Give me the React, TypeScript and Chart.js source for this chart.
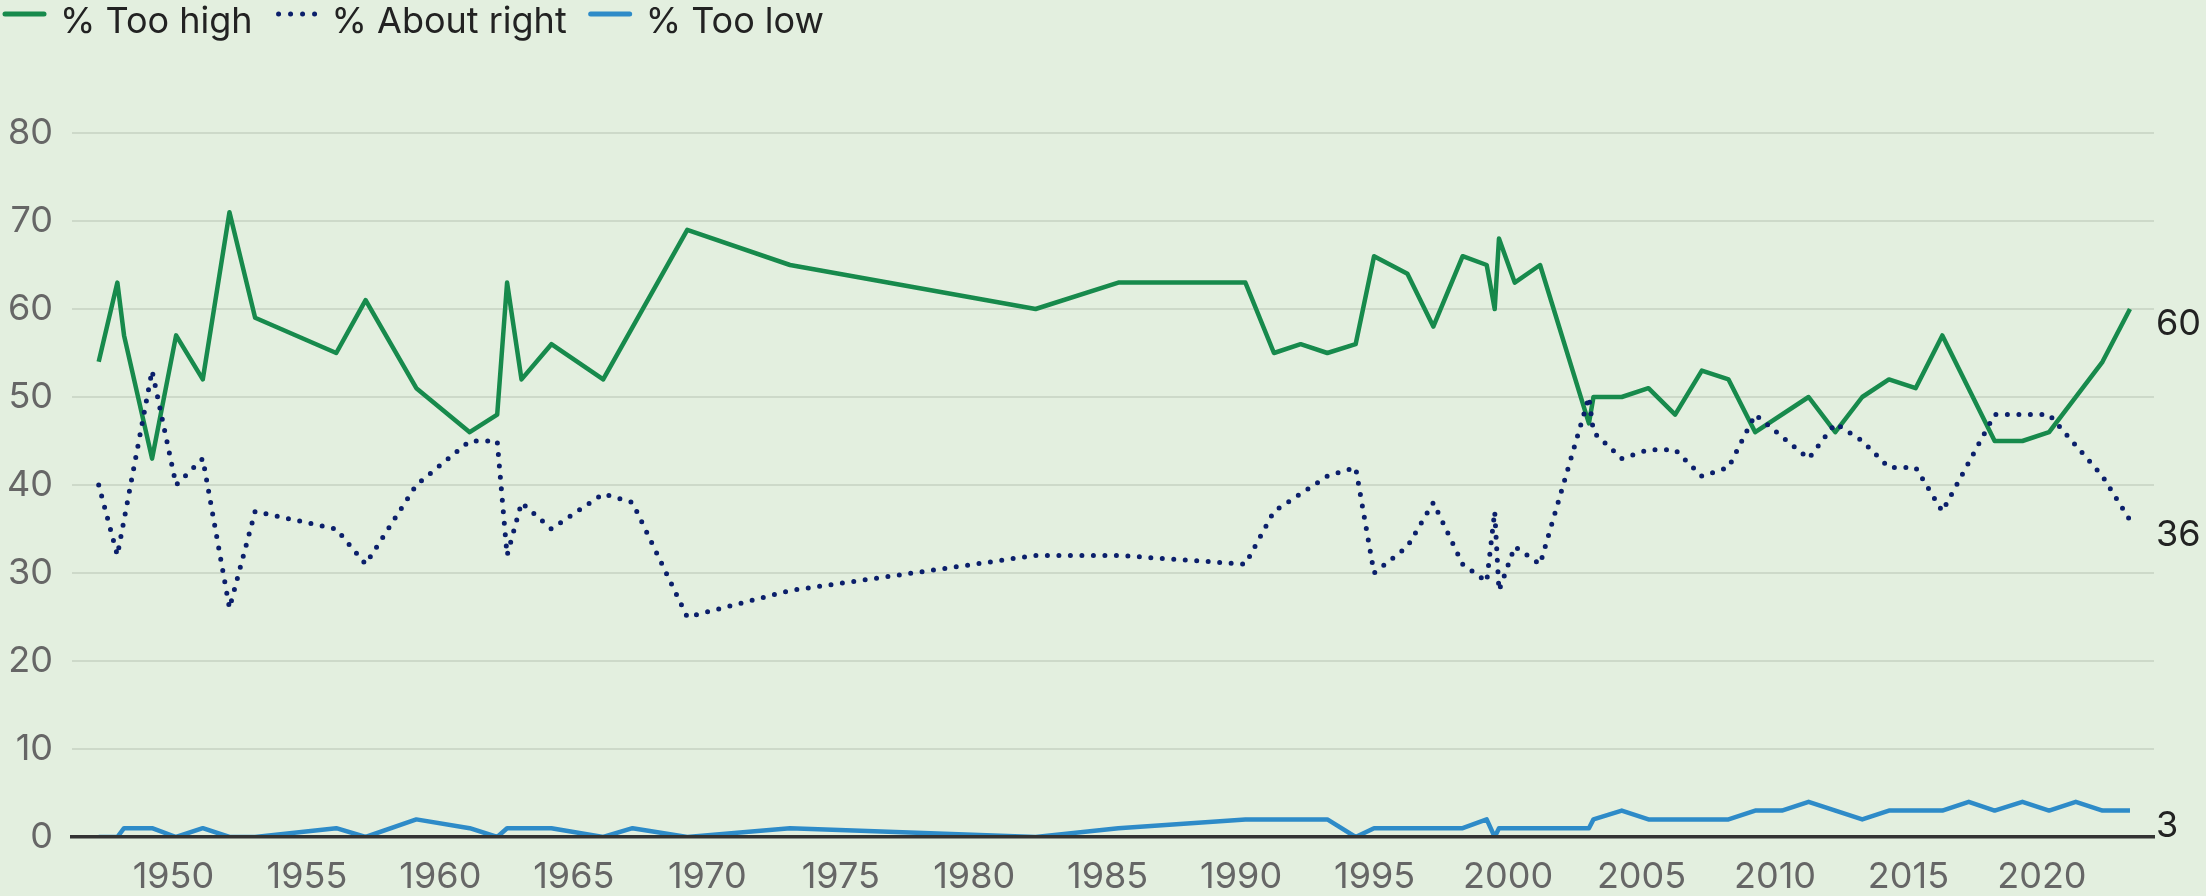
import React, { useEffect, useRef } from "react";
import { Chart, registerables } from "chart.js";

Chart.register(...registerables);

// Survey dates (decimal years)
const years = [
  1947.2, 1947.9, 1948.15, 1949.2, 1950.1, 1951.1, 1952.1, 1953.06, 1956.1, 1957.2,
  1959.1, 1961.1, 1962.13, 1962.5, 1963.04, 1964.16, 1966.1, 1967.2, 1969.25, 1973.1,
  1982.3, 1985.4, 1990.16, 1991.23, 1992.23, 1993.23, 1994.29, 1994.98, 1996.23, 1997.2,
  1998.3, 1999.2, 1999.5, 1999.66, 2000.25, 2001.2, 2003.03, 2003.2, 2004.26, 2005.26,
  2006.26, 2007.26, 2008.26, 2009.26, 2010.26, 2011.26, 2012.26, 2013.27, 2014.27, 2015.27,
  2016.27, 2017.26, 2018.23, 2019.27, 2020.27, 2021.27, 2022.27, 2023.3,
];

const tooHigh = [
  54, 63, 57, 43, 57, 52, 71, 59, 55, 61,
  51, 46, 48, 63, 52, 56, 52, null, 69, 65,
  60, 63, 63, 55, 56, 55, 56, 66, 64, 58,
  66, 65, 60, 68, 63, 65, 47, 50, 50, 51,
  48, 53, 52, 46, null, 50, 46, 50, 52, 51,
  57, null, 45, 45, 46, null, 54, 60,
];

const aboutRight = [
  40, 32, null, 53, 40, 43, 26, 37, 35, 31,
  40, 45, 45, 32, 38, 35, 39, 38, 25, 28,
  32, 32, 31, 37, 39, 41, 42, 30, 33, 38,
  31, 29, 37, 28, 33, 31, 50, 46, 43, 44,
  44, 41, 42, 48, null, 43, 47, 45, 42, 42,
  37, null, 48, 48, 48, null, 41, 36,
];

const tooLow = [
  0, 0, 1, 1, 0, 1, 0, 0, 1, 0,
  2, 1, 0, 1, 1, 1, 0, 1, 0, 1,
  0, 1, 2, 2, 2, 2, 0, 1, 1, 1,
  1, 2, 0, 1, 1, 1, 1, 2, 3, 2,
  2, 2, 2, 3, 3, 4, null, 2, 3, 3,
  3, 4, 3, 4, 3, 4, 3, 3,
];

const seriesNames = ["% Too high", "% About right", "% Too low"];
const xTickYears = [1950, 1955, 1960, 1965, 1970, 1975, 1980, 1985, 1990, 1995, 2000, 2005, 2010, 2015, 2020];
const yTickValues = [0, 10, 20, 30, 40, 50, 60, 70, 80];

const BG = "#E3EFDF";
const GRID = "#CDD9C9";
const GREEN = "#178A4C";
const NAVY = "#0B1F6B";
const BLUE = "#2E8BC8";
const FONT = "Inter, 'Liberation Sans', Arial, sans-serif";

const toPoints = (vals: (number | null)[]) => years.map((x, i) => ({ x, y: vals[i] }));

const decorPlugin = {
  id: "decor",
  beforeDraw(chart: any) {
    const ctx = chart.ctx;
    ctx.save();
    ctx.fillStyle = BG;
    ctx.fillRect(0, 0, chart.width, chart.height);
    ctx.restore();
  },
  afterDraw(chart: any) {
    const ctx = chart.ctx;
    ctx.save();
    // Legend
    ctx.font = `36px ${FONT}`;
    ctx.textBaseline = "alphabetic";
    ctx.fillStyle = "#222222";
    let x = 3;
    const swY = 14;
    const styles = [
      { color: GREEN, dotted: false },
      { color: NAVY, dotted: true },
      { color: BLUE, dotted: false },
    ];
    seriesNames.forEach((name, i) => {
      const st = styles[i];
      ctx.strokeStyle = st.color;
      ctx.lineWidth = st.dotted ? 5 : 5;
      ctx.lineCap = "round";
      ctx.beginPath();
      if (st.dotted) {
        ctx.setLineDash([0, 12]);
        ctx.moveTo(x + 4, swY);
        ctx.lineTo(x + 44, swY);
      } else {
        ctx.setLineDash([]);
        ctx.moveTo(x + 2, swY);
        ctx.lineTo(x + 41, swY);
      }
      ctx.stroke();
      ctx.setLineDash([]);
      ctx.fillText(name, x + 57, 33);
      x = x + 57 + ctx.measureText(name).width + 22;
    });

    // End labels
    const area = chart.chartArea;
    ctx.fillStyle = "#222222";
    ctx.textAlign = "left";
    chart.data.datasets.forEach((ds: any, i: number) => {
      const meta = chart.getDatasetMeta(i);
      const last = meta.data[meta.data.length - 1];
      const v = ds.data[ds.data.length - 1].y;
      ctx.fillText(String(v), area.right + 2, last.y + 26);
    });
    ctx.restore();
  },
};

export default function App() {
  const ref = useRef<HTMLCanvasElement | null>(null);
  useEffect(() => {
    if (!ref.current) return;
    const chart = new Chart(ref.current, {
      type: "line",
      data: {
        datasets: [
          {
            label: seriesNames[0],
            data: toPoints(tooHigh),
            borderColor: GREEN,
            borderWidth: 4.5,
            borderJoinStyle: "round",
            pointRadius: 0,
            spanGaps: true,
            tension: 0,
            order: 1,
          },
          {
            label: seriesNames[1],
            data: toPoints(aboutRight),
            borderColor: NAVY,
            borderWidth: 5,
            borderDash: [0, 11.5],
            borderCapStyle: "round",
            pointRadius: 0,
            spanGaps: true,
            tension: 0,
            order: 0,
          },
          {
            label: seriesNames[2],
            data: toPoints(tooLow),
            borderColor: BLUE,
            borderWidth: 4.5,
            borderJoinStyle: "round",
            pointRadius: 0,
            spanGaps: true,
            tension: 0,
            order: 2,
          },
        ] as any,
      },
      options: {
        responsive: false,
        animation: false,
        devicePixelRatio: 1,
        layout: { padding: { top: 133, right: 52, left: 0, bottom: 0 } },
        plugins: { legend: { display: false }, tooltip: { enabled: false } },
        scales: {
          x: {
            type: "linear",
            min: 1946.2,
            max: 2024.2,
            afterBuildTicks: (s: any) => {
              s.ticks = xTickYears.map((v) => ({ value: v }));
            },
            afterFit: (s: any) => {
              s.height = 59;
            },
            grid: { display: false, drawTicks: false },
            border: { display: true, color: "#333333", width: 3.5, z: 1 },
            ticks: {
              padding: 19,
              color: "#666666",
              font: { family: FONT, size: 36 },
              maxRotation: 0,
              autoSkip: false,
              callback: (v: any) => String(v),
            },
          },
          y: {
            min: 0,
            max: 80,
            afterBuildTicks: (s: any) => {
              s.ticks = yTickValues.map((v) => ({ value: v }));
            },
            afterFit: (s: any) => {
              s.width = 72;
            },
            grid: {
              drawTicks: false,
              color: (c: any) => (c.tick && c.tick.value === 0 ? "rgba(0,0,0,0)" : GRID),
              lineWidth: 2,
            },
            border: { display: false },
            ticks: {
              padding: 19,
              color: "#666666",
              font: { family: FONT, size: 36 },
              callback: (v: any) => String(v),
            },
          },
        },
      } as any,
      plugins: [decorPlugin],
    });
    return () => chart.destroy();
  }, []);

  return (
    <div style={{ position: "absolute", left: 0, top: 0, width: 2206, height: 896, background: BG }}>
      <canvas ref={ref} width={2206} height={896} style={{ display: "block" }} />
    </div>
  );
}
